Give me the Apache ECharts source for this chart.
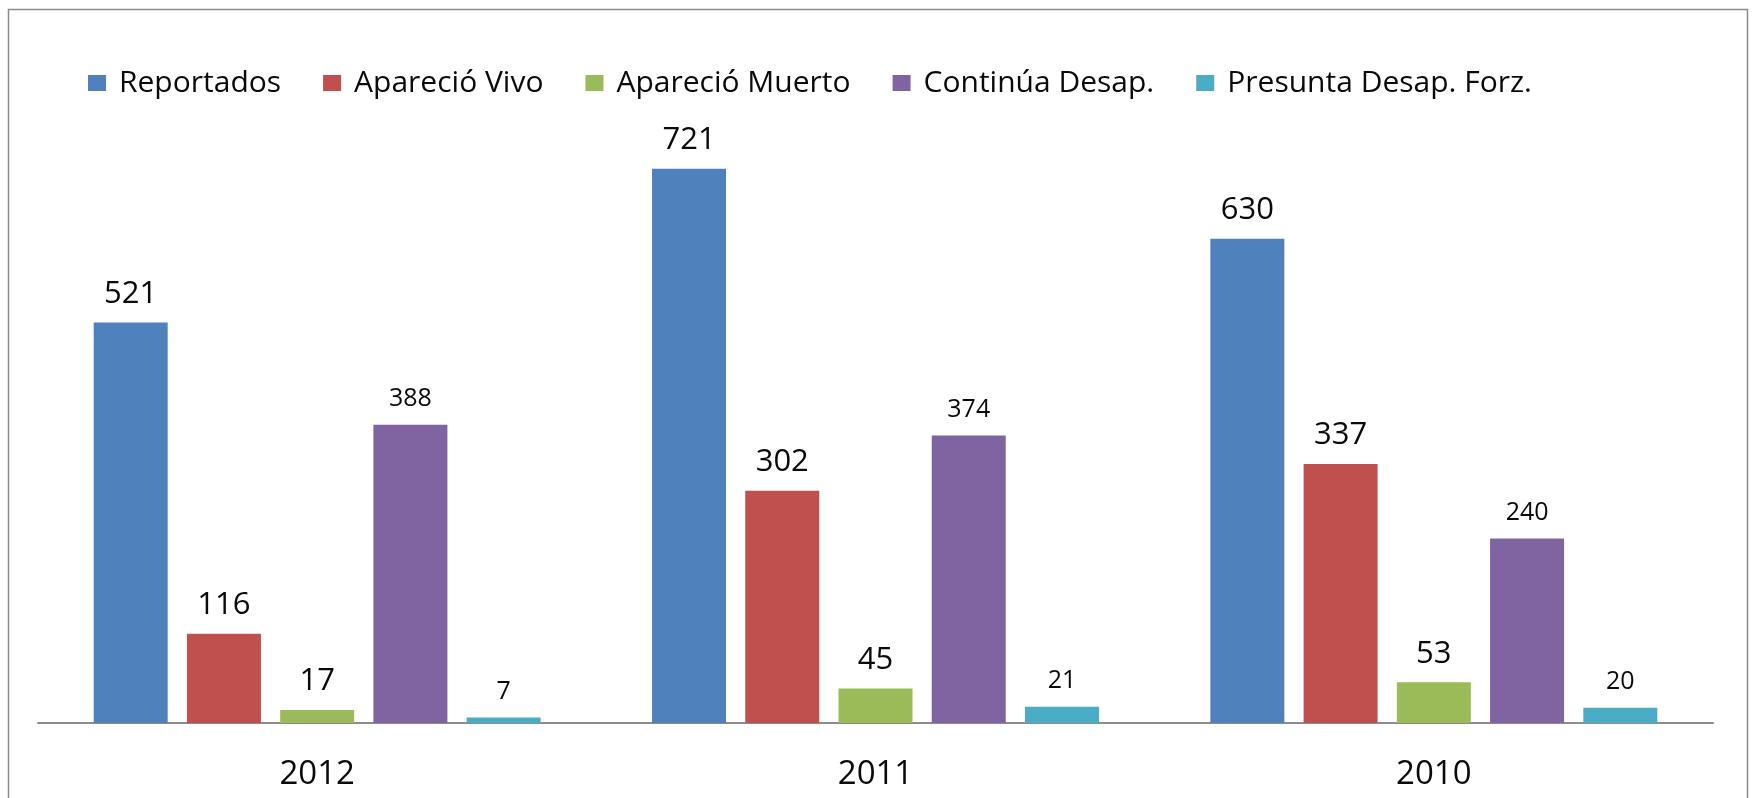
<!DOCTYPE html>
<html>
<head>
<meta charset="utf-8">
<script src="https://cdn.jsdelivr.net/npm/echarts@6/dist/echarts.min.js"></script>
<style>
  html, body { margin:0; padding:0; background:#fff; }
  #chart { width:1755px; height:798px; }
</style>
</head>
<body>
<div id="chart"></div>
<script>
var years = ['2012', '2011', '2010'];
var seriesNames = ['Reportados', 'Apareció Vivo', 'Apareció Muerto', 'Continúa Desap.', 'Presunta Desap. Forz.'];
var reportados = [521, 721, 630];
var aparecioVivo = [116, 302, 337];
var aparecioMuerto = [17, 45, 53];
var continuaDesap = [388, 374, 240];
var presuntaDesap = [7, 21, 20];
var seriesColors = ['#4F81BD', '#C0504D', '#9BBB59', '#8064A2', '#4BACC6'];
var labelSizes = [31, 31, 31, 25, 25];

var font = '"Open Sans", "Noto Sans", sans-serif';
var values = [reportados, aparecioVivo, aparecioMuerto, continuaDesap, presuntaDesap];

var chart = echarts.init(document.getElementById('chart'), null, {renderer:'canvas'});

var series = [];
for(var i=0;i<values.length;i++){
  series.push({
    name: seriesNames[i],
    type: 'bar',
    data: values[i],
    barWidth: 74,
    barGap: '26%',
    itemStyle: { color: seriesColors[i] },
    label: {
      show: true,
      position: 'top',
      distance: 13,
      color: '#0a0a0a',
      fontFamily: font,
      fontSize: labelSizes[i]
    }
  });
}

chart.setOption({
  animation: false,
  backgroundColor: '#fff',
  graphic: [{
    type: 'rect',
    shape: { x: 8.5, y: 9.5, width: 1739, height: 900 },
    style: { fill: 'none', stroke: '#8a8a8a', lineWidth: 1.5 },
    silent: true
  }],
  legend: {
    left: 83,
    top: 63,
    itemWidth: 18,
    itemHeight: 16,
    itemGap: 42,
    icon: 'rect',
    textStyle: {
      fontFamily: font,
      fontSize: 30,
      color: '#0a0a0a',
      padding: [0, 0, 0, 8]
    },
    data: seriesNames
  },
  grid: {
    left: 38,
    right: 42,
    top: 108,
    bottom: 75
  },
  xAxis: {
    type: 'category',
    data: years,
    axisLine: { lineStyle: { color: '#8c8c8c', width: 2 } },
    axisTick: { show: false },
    axisLabel: {
      fontFamily: font,
      fontSize: 33,
      color: '#0a0a0a',
      margin: 35
    }
  },
  yAxis: {
    type: 'value',
    min: 0,
    max: 800,
    show: false,
    splitLine: { show: false }
  },
  series: series
});
</script>
</body>
</html>
